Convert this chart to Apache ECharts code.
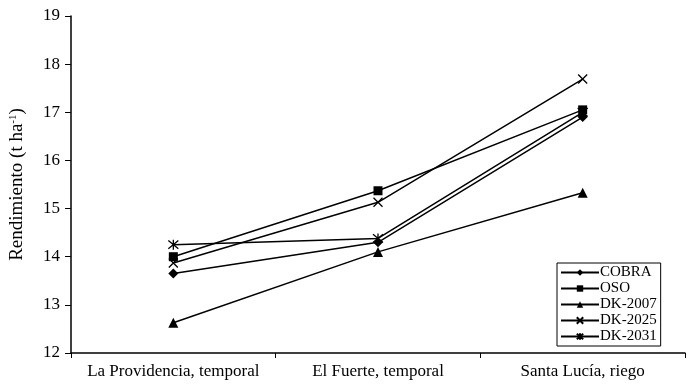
<!DOCTYPE html>
<html><head><meta charset="utf-8">
<script src="https://cdn.jsdelivr.net/npm/echarts@6/dist/echarts.min.js"></script>
<style>html,body{margin:0;padding:0;background:#fff}#c{width:691px;height:388px}</style>
</head><body><div id="c"></div>
<script>
const categories = ['La Providencia, temporal', 'El Fuerte, temporal', 'Santa Lucía, riego'];
const seriesNames = ['COBRA', 'OSO', 'DK-2007', 'DK-2025', 'DK-2031'];
const cobra = [13.65, 14.3, 16.9];
const oso = [14.0, 15.37, 17.05];
const dk2007 = [12.63, 14.1, 15.33];
const dk2025 = [13.87, 15.13, 17.69];
const dk2031 = [14.25, 14.38, 17.0];
const yTicks = [12, 13, 14, 15, 16, 17, 18, 19];

const font = '"Liberation Serif", "Times New Roman", serif';
const symbols = [
  'diamond',
  'rect',
  'triangle',
  'path://M0,0L10,10M10,0L0,10',
  'path://M0,0L10,10M10,0L0,10M5,-1L5,11'
];
const sizes = [10, 9, 10, 9, 10];
const values = [cobra, oso, dk2007, dk2025, dk2031];

const chart = echarts.init(document.getElementById('c'), null, {renderer: 'canvas'});
chart.setOption({
  animation: false,
  backgroundColor: '#fff',
  grid: {left: 70, right: 6, top: 16, bottom: 35},
  legend: {
    orient: 'vertical', left: 557, top: 263, width: 120,
    padding: [2, 4, 2, 3], itemGap: 1, itemWidth: 38, itemHeight: 8,
    borderColor: '#000', borderWidth: 1,
    textStyle: {fontFamily: font, fontSize: 15, color: '#000', padding: [0, 0, 0, -4]},
    data: seriesNames
  },
  xAxis: {
    type: 'category', data: categories, boundaryGap: true,
    axisLine: {lineStyle: {color: '#000', width: 1.5}},
    axisTick: {show: true, length: 5, lineStyle: {color: '#000'}},
    axisLabel: {fontFamily: font, fontSize: 17, color: '#000', margin: 10, interval: 0, hideOverlap: false}
  },
  yAxis: {
    type: 'value', min: yTicks[0], max: yTicks[yTicks.length - 1], interval: 1,
    name: '{a|Rendimiento (t ha}{s|-1}{a|)}', nameLocation: 'middle', nameGap: 44, nameRotate: 90,
    nameTextStyle: {rich: {a: {fontFamily: font, fontSize: 19, color: '#000'}, s: {fontFamily: font, fontSize: 11, color: '#000', verticalAlign: 'top', padding: [0, 0, 8, 0]}}},
    axisLine: {show: true, lineStyle: {color: '#000', width: 1.5}},
    axisTick: {show: true, length: 6, lineStyle: {color: '#000'}},
    splitLine: {show: false},
    axisLabel: {fontFamily: font, fontSize: 17, color: '#000', margin: 11}
  },
  series: seriesNames.map((n, i) => ({
    name: n, type: 'line', data: values[i],
    symbol: symbols[i], symbolSize: sizes[i],
    lineStyle: {color: '#000', width: 1.5},
    itemStyle: {color: '#000', borderColor: '#000', borderWidth: i >= 3 ? 1.3 : 0},
    z: 2 + i
  }))
});
</script></body></html>
